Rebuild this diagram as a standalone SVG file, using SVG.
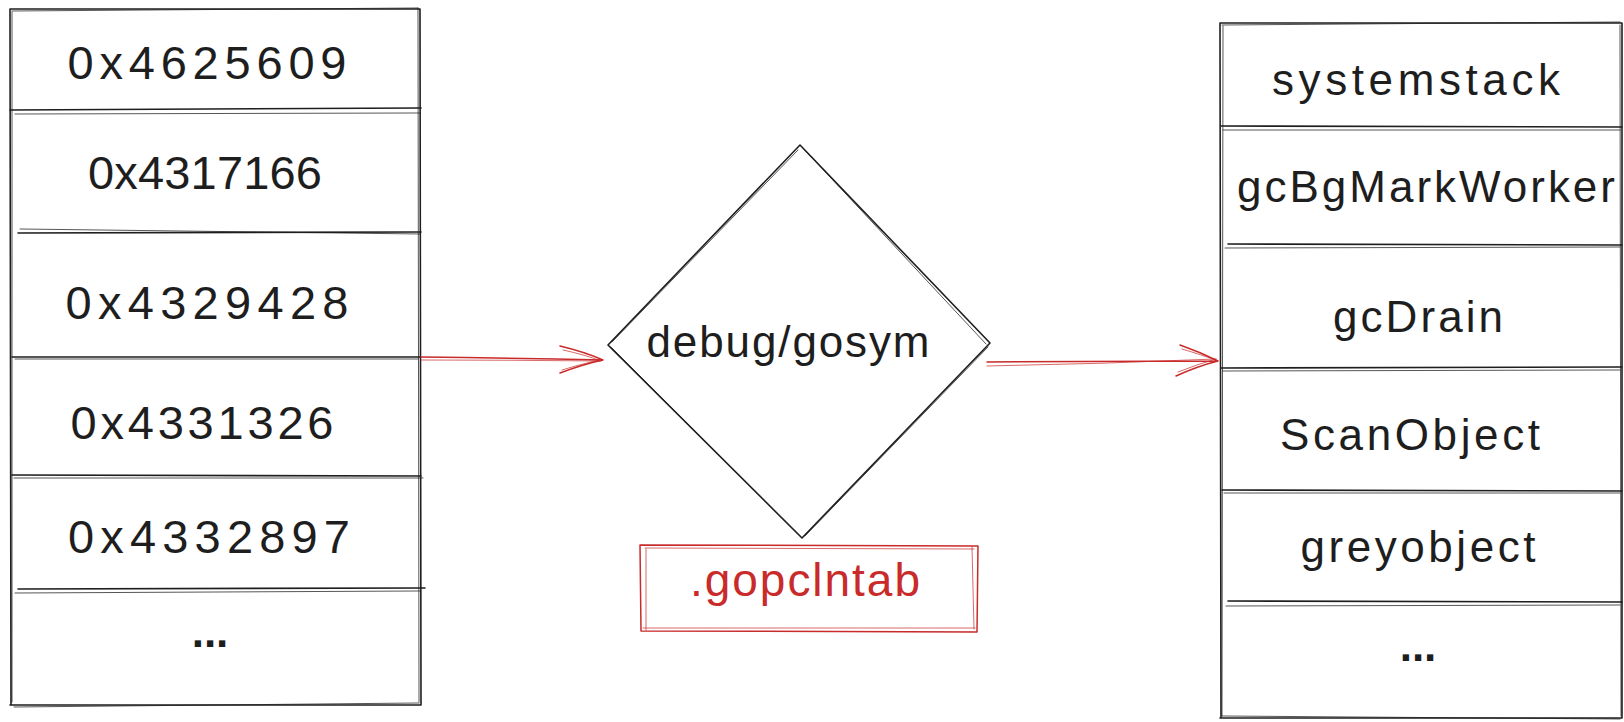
<svg xmlns="http://www.w3.org/2000/svg" width="1624" height="722" viewBox="0 0 1624 722">
<defs>
<style>
.ln{fill:none;stroke:#1e1e1e;stroke-width:1.6;stroke-linecap:round;stroke-linejoin:round}
.ln2{fill:none;stroke:#1e1e1e;stroke-width:1;stroke-linecap:round;opacity:0.75}
.rd{fill:none;stroke:#c92a2a;stroke-width:1.5;stroke-linecap:round;stroke-linejoin:round}
.rd2{fill:none;stroke:#c92a2a;stroke-width:1;stroke-linecap:round;opacity:0.7}
.t{font-family:"Liberation Sans","DejaVu Sans",sans-serif;font-size:44px;fill:#1e1e1e;text-anchor:middle}
.d{font-family:"Liberation Sans","DejaVu Sans",sans-serif;font-size:47px;fill:#1e1e1e;text-anchor:middle}
.tr{font-family:"Liberation Sans","DejaVu Sans",sans-serif;font-size:46px;fill:#c92a2a;text-anchor:middle}
</style>
</defs>
<rect width="1624" height="722" fill="#ffffff"/>

<g id="left-stack">
<path class="ln" d="M10 9 L420 9 M10 9 L11 705 M420 9 L421 705 M10 705 L421 705"/>
<path class="ln2" d="M12 11 L418 8 M12 12 L12 702 M418 8 L419 702 M14 707 L419 703"/>
<path class="ln" d="M10 110 L421 108 M18 233 L421 232 M12 357 L420 357 M12 475 L421 476 M18 589 L425 588"/>
<path class="ln2" d="M15 114 L420 113 M20 229 L420 234 M15 359 L418 359 M14 478 L423 478 M15 593 L420 591"/>
</g>
<g id="addr1"><text class="d" x="207" y="79" textLength="279">0x4625609</text></g>
<g id="addr2"><text class="d" x="205" y="189" textLength="234">0x4317166</text></g>
<g id="addr3"><text class="d" x="207" y="319" textLength="283">0x4329428</text></g>
<g id="addr4"><text class="d" x="202" y="439" textLength="263">0x4331326</text></g>
<g id="addr5"><text class="d" x="209" y="553" textLength="282">0x4332897</text></g>
<g id="addr6"><text class="t" x="210" y="647" font-weight="bold" font-size="50">...</text></g>

<g id="gosym">
<path class="ln" d="M800 145 L990 343 L802 538 L608 345 Z"/>
<path class="ln2" d="M803 148 L986 344 M799 535 L611 347 M612 342 L798 150 M988 347 L805 536"/>
<text class="t" x="788" y="357" textLength="283">debug/gosym</text>
</g>

<g id="gopclntab">
<path class="rd" d="M640 545 L978 546 L977 632 L641 631 Z"/>
<path class="rd2" d="M645 548 L974 549 M646 549 L646 630 M972 547 L974 629 M643 628 L975 628"/>
<text class="tr" x="805" y="596" textLength="230">.gopclntab</text>
</g>

<g id="right-stack">
<path class="ln" d="M1220 23 L1622 23 M1220 23 L1221 718 M1622 23 L1622 718 M1220 718 L1622 718"/>
<path class="ln2" d="M1222 25 L1620 22 M1223 26 L1222 716 M1620 25 L1621 716 M1222 716 L1620 719"/>
<path class="ln" d="M1221 126 L1622 127 M1228 244 L1622 245 M1221 368 L1622 367 M1222 490 L1622 491 M1228 601 L1622 602"/>
<path class="ln2" d="M1223 130 L1620 130 M1225 248 L1620 247 M1223 371 L1620 370 M1224 493 L1620 493 M1226 606 L1620 605"/>
</g>
<g id="fn1"><text class="t" x="1416" y="95" textLength="288">systemstack</text></g>
<g id="fn2"><text class="t" x="1426" y="202" textLength="378">gcBgMarkWorker</text></g>
<g id="fn3"><text class="t" x="1418" y="332" textLength="170">gcDrain</text></g>
<g id="fn4"><text class="t" x="1410" y="450" textLength="260">ScanObject</text></g>
<g id="fn5"><text class="t" x="1418" y="562" textLength="235">greyobject</text></g>
<g id="fn6"><text class="t" x="1418" y="661" font-weight="bold" font-size="50">...</text></g>

<g id="connectors">
<path class="rd" d="M421 357 Q510 358 603 360 M560 346 Q585 352 603 360 M560 373 Q584 364 603 360"/>
<path class="rd2" d="M421 360 Q510 360 600 361 M563 350 Q586 355 601 361 M562 370 Q585 363 600 360"/>
<path class="rd" d="M987 362 Q1100 361 1218 361 M1180 345 Q1200 352 1218 361 M1176 376 Q1198 366 1218 361"/>
<path class="rd2" d="M987 366 Q1100 364 1216 359 M1182 349 Q1202 355 1216 360 M1178 372 Q1198 364 1216 359"/>
</g>
</svg>
